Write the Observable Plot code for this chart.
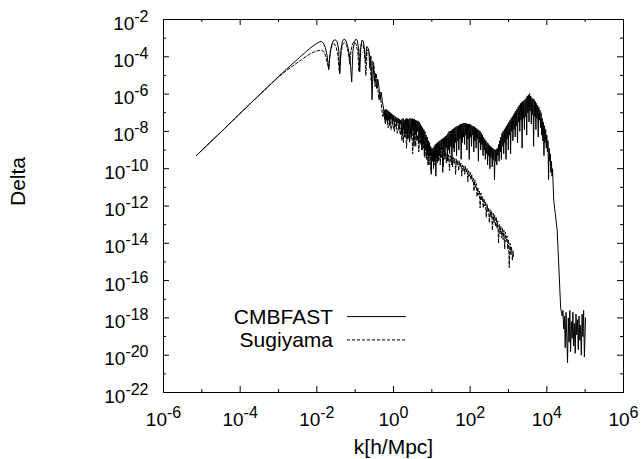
<!DOCTYPE html>
<html>
<head>
<meta charset="utf-8">
<script src="https://cdn.jsdelivr.net/npm/d3@7"></script>
<script src="https://cdn.jsdelivr.net/npm/@observablehq/plot@0.6"></script>
<style>
  html, body { margin: 0; padding: 0; background: #fff; }
  #chart { width: 643px; height: 459px; }
</style>
</head>
<body>
<div id="chart"></div>
<script>
// Each entry is [log10 k, log10 Delta].
const cmbfast = [
  [-5.14,-9.29],[-4.8,-8.62],[-4.5,-8.03],[-4.2,-7.43],[-4.0,-7.03],[-3.7,-6.44],[-3.5,-6.05],
  [-3.2,-5.45],[-3.0,-5.06],[-2.8,-4.68],[-2.6,-4.31],[-2.45,-4.03],[-2.3,-3.76],[-2.2,-3.58],
  [-2.1,-3.42],[-2.0,-3.28],[-1.93,-3.2],[-1.88,-3.18],[-1.83,-3.26],[-1.78,-3.5],[-1.73,-3.95],
  [-1.69,-4.7],[-1.66,-3.95],[-1.62,-3.4],[-1.57,-3.13],[-1.52,-3.08],[-1.47,-3.2],[-1.43,-3.6],
  [-1.40,-4.9],[-1.37,-3.6],[-1.33,-3.15],[-1.29,-3.05],[-1.25,-3.1],[-1.2,-3.4],[-1.15,-3.9],
  [-1.12,-4.5],[-1.09,-5.35],[-1.06,-3.7],[-1.02,-3.2],[-0.98,-3.05],[-0.94,-3.15],[-0.91,-3.6],
  [-0.88,-4.8],[-0.85,-3.4],[-0.82,-3.1],[-0.79,-3.15],[-0.76,-3.5],[-0.73,-4.3],[-0.70,-3.45],
  [-0.67,-3.5],[-0.64,-3.75],[-0.62,-4.6],[-0.59,-3.95],[-0.56,-6.3],[-0.53,-4.4],[-0.50,-5.3],
  [-0.47,-4.9],[-0.44,-5.7],[-0.41,-5.2],[-0.38,-5.6],[-0.35,-6.3],[-0.32,-5.9],[-0.29,-6.4],
  [-0.26,-6.75],[-0.245,-7.2],[-0.23,-6.85],[-0.215,-7.5],[-0.2,-6.8],[-0.185,-7.3],[-0.17,-6.85],
  [-0.155,-7.6],[-0.14,-6.9],[-0.125,-7.4],[-0.11,-6.95],[-0.095,-7.7],[-0.08,-7.0],[-0.065,-7.35],
  [-0.05,-7.05],[-0.035,-7.6],[-0.02,-7.1],[-0.005,-7.45],[0.01,-7.15],[0.025,-7.8],[0.04,-7.2],
  [0.055,-7.5],[0.07,-7.25],[0.085,-7.7],[0.1,-7.3],[0.115,-7.55],[0.13,-7.3],[0.145,-7.9],
  [0.16,-7.35],[0.175,-7.6],
  [0.19,-7.4],[0.205,-8.0],[0.22,-7.35],[0.235,-8.2],[0.25,-7.3],[0.265,-7.9],[0.28,-7.4],
  [0.295,-8.3],[0.31,-7.35],[0.325,-8.05],[0.34,-7.3],[0.355,-8.4],[0.37,-7.32],[0.385,-7.95],
  [0.4,-7.35],[0.415,-8.5],[0.43,-7.3],[0.445,-8.1],[0.46,-7.33],[0.475,-8.25],[0.49,-7.3],
  [0.505,-8.0],[0.52,-7.35],[0.535,-8.8],[0.55,-7.35],[0.565,-8.15],[0.58,-7.4],[0.595,-8.35],
  [0.61,-7.42],[0.625,-8.0],[0.64,-7.45],[0.655,-8.6],[0.67,-7.5],[0.685,-8.3],[0.7,-7.6],
  [0.715,-8.6],[0.73,-7.7],[0.745,-9.0],[0.76,-7.8],[0.775,-8.7],[0.79,-7.9],[0.805,-9.3],
  [0.82,-8.0],[0.835,-8.9],[0.85,-8.2],[0.865,-9.5],[0.88,-8.3],[0.895,-9.1],[0.91,-8.5],
  [0.925,-9.8],[0.94,-8.6],[0.955,-9.3],[0.97,-8.8],[0.985,-10.3],[1.0,-8.9],[1.015,-9.6],
  [1.03,-8.9],[1.045,-10.0],[1.06,-8.8],[1.075,-9.5],[1.09,-8.7],[1.105,-10.4],[1.12,-8.65],
  [1.135,-9.4],[1.15,-8.6],
  [1.165,-9.6],[1.18,-8.55],[1.195,-9.2],[1.21,-8.5],[1.225,-9.4],[1.24,-8.45],[1.255,-9.0],
  [1.27,-8.4],[1.285,-10.2],[1.3,-8.35],[1.315,-9.1],[1.33,-8.3],[1.345,-9.3],[1.36,-8.25],
  [1.375,-8.9],[1.39,-8.2],[1.405,-9.6],[1.42,-8.1],[1.435,-9.0],[1.45,-8.0],[1.465,-9.2],
  [1.48,-7.98],[1.495,-8.8],[1.51,-7.95],[1.525,-9.8],[1.54,-7.9],[1.555,-8.9],[1.57,-7.85],
  [1.585,-9.1],[1.6,-7.8],[1.615,-8.6],[1.63,-7.75],[1.645,-9.3],[1.66,-7.72],[1.675,-8.5],
  [1.69,-7.7],[1.705,-9.0],[1.72,-7.65],[1.735,-8.4],[1.75,-7.6],[1.765,-9.5],[1.78,-7.6],
  [1.795,-8.6],[1.81,-7.58],[1.825,-8.3],
  [1.84,-7.55],[1.855,-8.7],[1.87,-7.55],[1.885,-8.2],[1.9,-7.58],[1.915,-9.0],[1.93,-7.6],
  [1.945,-8.4],[1.96,-7.6],[1.975,-9.5],[1.99,-7.6],[2.005,-8.3],[2.02,-7.65],[2.035,-8.8],
  [2.05,-7.7],[2.065,-8.2],[2.08,-7.72],[2.095,-9.1],[2.11,-7.75],[2.125,-8.5],[2.14,-7.8],
  [2.155,-8.9],[2.17,-7.85],[2.185,-8.4],[2.2,-7.9],[2.215,-9.6],[2.23,-7.95],[2.245,-8.6],
  [2.26,-8.0],[2.275,-9.0],[2.29,-8.1],[2.305,-8.7],[2.32,-8.2],[2.335,-9.3],[2.35,-8.3],
  [2.365,-9.0],[2.38,-8.4],[2.395,-9.5],[2.41,-8.5],[2.425,-9.2],[2.44,-8.6],[2.455,-9.8],
  [2.47,-8.65],[2.485,-9.3],[2.5,-8.75],[2.515,-10.0],[2.53,-8.8],[2.545,-9.4],[2.56,-8.85],
  [2.575,-9.9],[2.59,-8.9],[2.605,-9.5],[2.62,-8.95],[2.635,-10.6],[2.65,-9.0],[2.665,-9.6],
  [2.68,-8.95],[2.695,-9.8],[2.71,-8.9],
  [2.725,-9.3],[2.74,-8.7],[2.755,-9.6],[2.77,-8.5],[2.785,-9.1],[2.8,-8.3],[2.815,-9.5],
  [2.83,-8.1],[2.845,-8.8],[2.86,-8.0],[2.875,-9.2],[2.89,-7.9],[2.905,-8.6],[2.92,-7.8],
  [2.935,-9.5],[2.95,-7.7],[2.965,-8.4],[2.98,-7.6],[2.995,-9.0],[3.01,-7.5],[3.025,-8.2],
  [3.04,-7.4],[3.055,-9.2],[3.07,-7.3],[3.085,-8.0],[3.1,-7.2],[3.115,-8.5],[3.13,-7.1],
  [3.145,-7.9],[3.16,-7.0],[3.175,-8.3],[3.19,-6.9],[3.205,-7.7],[3.22,-6.8],[3.235,-8.6],
  [3.25,-6.7],[3.265,-7.5],[3.28,-6.6],[3.295,-8.0],[3.31,-6.5],[3.325,-7.4],[3.34,-6.45],
  [3.355,-8.9],[3.37,-6.4],[3.385,-7.3],[3.4,-6.35],[3.415,-7.9],[3.43,-6.3],[3.445,-7.2],
  [3.46,-6.2],[3.475,-8.2],[3.49,-6.1],[3.505,-7.0],[3.52,-6.05],[3.535,-7.5],[3.55,-5.97],
  [3.565,-6.9],[3.58,-6.1],
  [3.595,-7.6],[3.61,-6.2],[3.625,-7.1],[3.64,-6.25],[3.655,-8.8],[3.67,-6.3],[3.685,-7.2],
  [3.7,-6.4],[3.715,-7.9],[3.73,-6.5],[3.745,-7.3],[3.76,-6.6],[3.775,-8.3],[3.79,-6.7],
  [3.805,-7.4],[3.82,-6.85],[3.835,-7.8],[3.85,-7.0],
  [3.865,-8.2],[3.88,-7.3],[3.895,-8.5],[3.91,-7.5],[3.925,-9.3],[3.94,-7.7],[3.955,-8.6],
  [3.97,-7.9],[3.985,-8.9],[4.0,-8.2],[4.015,-9.1],[4.03,-8.5],[4.045,-10.6],[4.06,-8.9],
  [4.075,-9.6],[4.09,-9.2],[4.105,-10.2],[4.12,-9.6],[4.135,-10.4],[4.15,-10.0],[4.165,-10.9],
  [4.18,-11.7],[4.22,-12.4],[4.27,-13.3],[4.31,-15.1],[4.36,-17.45],[4.40,-17.9],
  [4.42,-17.6],[4.44,-18.6],[4.46,-17.9],[4.48,-19.6],[4.50,-17.7],[4.52,-19.0],[4.54,-20.4],
  [4.56,-18.0],[4.58,-19.3],[4.60,-17.6],[4.62,-19.8],[4.64,-18.2],[4.66,-19.1],[4.68,-17.7],
  [4.70,-19.5],[4.72,-18.3],[4.74,-19.9],[4.76,-17.8],[4.78,-18.9],[4.80,-18.1],[4.82,-19.7],
  [4.84,-17.9],[4.86,-19.2],[4.88,-18.4],[4.90,-20.0],[4.92,-17.8],[4.94,-19.0],[4.96,-17.6],
  [4.98,-20.1],[5.01,-18.0]
];

const sugiyama = [
  [-5.14,-9.29],[-4.5,-8.03],[-4.0,-7.03],[-3.5,-6.05],[-3.0,-5.08],[-2.8,-4.75],[-2.6,-4.45],
  [-2.4,-4.15],[-2.2,-3.87],[-2.05,-3.72],[-1.95,-3.66],[-1.88,-3.65],[-1.82,-3.72],[-1.77,-3.95],
  [-1.72,-4.4],[-1.69,-4.6],[-1.65,-3.7],[-1.60,-3.35],[-1.55,-3.3],[-1.50,-3.45],[-1.45,-3.9],
  [-1.41,-4.9],[-1.37,-3.8],[-1.33,-3.35],[-1.28,-3.25],[-1.23,-3.35],[-1.18,-3.75],[-1.14,-4.4],
  [-1.11,-3.7],[-1.07,-3.3],[-1.02,-3.2],[-0.97,-3.35],[-0.93,-3.8],[-0.90,-4.8],[-0.87,-3.6],
  [-0.83,-3.3],[-0.79,-3.4],[-0.75,-3.9],[-0.72,-5.0],[-0.69,-3.7],[-0.65,-3.6],[-0.61,-4.1],
  [-0.58,-5.3],[-0.55,-4.2],[-0.51,-4.4],[-0.48,-5.6],[-0.45,-4.9],[-0.42,-5.5],[-0.38,-6.3],
  [-0.35,-5.9],[-0.31,-6.7],[-0.28,-7.2],[-0.25,-7.0],[-0.21,-7.6],[-0.18,-7.2],[-0.14,-7.8],
  [-0.10,-7.4],[-0.06,-7.9],[-0.02,-7.5],[0.02,-8.0],[0.06,-7.6],[0.10,-8.1],[0.14,-7.7],
  [0.18,-8.2],[0.2,-7.8],[0.22,-8.5],[0.24,-7.85],[0.26,-8.6],[0.28,-7.9],[0.3,-8.3],[0.32,-7.9],
  [0.34,-8.9],[0.36,-7.95],[0.38,-8.4],[0.4,-7.95],[0.42,-8.6],[0.44,-8.0],[0.46,-8.4],[0.48,-8.05],
  [0.5,-9.2],[0.52,-8.1],[0.54,-8.5],[0.56,-8.1],[0.58,-8.8],[0.6,-8.15],[0.62,-8.5],[0.64,-8.2],
  [0.66,-9.1],[0.68,-8.3],[0.7,-8.7],[0.72,-8.4],[0.74,-9.0],[0.76,-8.5],[0.78,-8.9],[0.8,-8.6],
  [0.82,-9.4],[0.84,-8.7],[0.86,-9.1],[0.88,-8.8],[0.9,-9.8],[0.92,-8.9],[0.94,-9.3],[0.96,-9.0],
  [0.98,-10.1],[1.0,-9.05],[1.02,-9.5],[1.04,-9.1],[1.06,-9.8],[1.08,-9.0],[1.1,-9.4],[1.12,-9.05],
  [1.14,-9.7],[1.16,-9.1],[1.18,-9.5],[1.2,-9.1],[1.22,-9.8],[1.24,-9.05],[1.26,-9.4],[1.28,-9.1],
  [1.3,-9.9],[1.32,-9.1],[1.34,-9.5],[1.36,-9.15],[1.38,-9.7],[1.4,-9.2],[1.42,-9.6],[1.44,-9.25],
  [1.46,-10.1],[1.48,-9.3],[1.5,-9.6],[1.52,-9.35],[1.54,-9.9],[1.56,-9.4],[1.58,-9.7],[1.6,-9.45],
  [1.62,-10.3],[1.64,-9.5],[1.66,-9.8],[1.68,-9.55],[1.7,-10.1],[1.72,-9.6],[1.74,-9.9],[1.76,-9.7],
  [1.78,-10.4],[1.8,-9.8],[1.82,-10.1],[1.84,-9.85],[1.86,-10.3],[1.88,-9.9],[1.9,-10.2],[1.92,-10.0],
  [1.94,-10.7],[1.96,-10.1],[1.98,-10.4],[2.0,-10.2],[2.02,-10.6],[2.04,-10.3],[2.06,-10.7],
  [2.08,-10.5],[2.1,-11.2],[2.12,-10.6],[2.14,-11.0],[2.16,-10.8],[2.18,-11.5],[2.2,-11.0],
  [2.22,-11.4],[2.24,-11.2],[2.26,-12.1],[2.28,-11.3],[2.3,-11.7],[2.32,-11.5],[2.34,-12.1],
  [2.36,-11.6],[2.38,-12.0],[2.4,-11.8],[2.42,-12.6],[2.44,-11.9],[2.46,-12.3],[2.48,-12.1],
  [2.5,-12.9],[2.52,-12.2],[2.54,-12.6],[2.56,-12.3],[2.58,-13.3],[2.6,-12.4],[2.62,-12.9],
  [2.64,-12.5],[2.66,-13.1],[2.68,-12.6],[2.7,-13.2],[2.72,-12.8],[2.74,-14.0],[2.76,-13.0],
  [2.78,-13.5],[2.8,-13.1],[2.82,-13.7],[2.84,-13.2],[2.86,-13.8],[2.88,-13.3],[2.9,-14.3],
  [2.92,-13.4],[2.94,-13.9],[2.96,-13.6],[2.98,-14.3],[3.0,-13.8],[3.02,-15.3],[3.04,-14.0],
  [3.06,-14.6],[3.08,-14.2],[3.1,-14.9],[3.12,-14.4],[3.13,-14.7]
];

// Axis ticks (powers of ten)
const xMajorExp = [-6, -4, -2, 0, 2, 4, 6];
const xMinorExp = [-5, -3, -1, 1, 3, 5];
const yMajorExp = [-2, -4, -6, -8, -10, -12, -14, -16, -18, -20, -22];
const yMinorExp = [-3, -5, -7, -9, -11, -13, -15, -17, -19, -21];

const legendEntries = [
  { label: "CMBFAST", dash: null },
  { label: "Sugiyama", dash: "3,2" }
];
const xLabel = "k[h/Mpc]";
const yLabel = "Delta";

const W = 643, H = 459;
const mL = 163, mR = 20, mT = 19, mB = 67;
const plotW = W - mL - mR, plotH = H - mT - mB;
const majorLen = 6, minorLen = 3;

const toRows = pairs => pairs.map(([lk, ld]) => ({ k: 10 ** lk, delta: 10 ** ld }));
const pow10 = e => 10 ** e;
const expOf = d => String(Math.round(Math.log10(d)));

function legend(index, scales, values, dims) {
  const g = d3.create("svg:g").attr("font-size", 21).attr("fill", "black");
  legendEntries.forEach((e, i) => {
    const cy = dims.marginTop + 297.6 + i * 23.3;
    g.append("text")
      .attr("x", dims.marginLeft + 170)
      .attr("y", cy)
      .attr("dy", "0.35em")
      .attr("text-anchor", "end")
      .text(e.label);
    g.append("line")
      .attr("x1", dims.marginLeft + 184)
      .attr("x2", dims.marginLeft + 243)
      .attr("y1", cy).attr("y2", cy)
      .attr("stroke", "black")
      .attr("stroke-width", 1)
      .attr("stroke-dasharray", e.dash);
  });
  return g.node();
}

const chart = Plot.plot({
  width: W, height: H,
  marginLeft: mL, marginRight: mR, marginTop: mT, marginBottom: mB,
  style: {
    fontFamily: "'Liberation Sans', Arial, Helvetica, sans-serif",
    fontSize: "19px", background: "white", color: "black", overflow: "visible"
  },
  x: { type: "log", domain: [1e-6, 1e6] },
  y: { type: "log", domain: [1e-22, 1e-2] },
  marks: [
    Plot.line(toRows(cmbfast), { x: "k", y: "delta", stroke: "black", strokeWidth: 1 }),
    Plot.line(toRows(sugiyama), { x: "k", y: "delta", stroke: "black", strokeWidth: 1, strokeDasharray: "3,2" }),

    // inward ticks on all four sides
    Plot.ruleY(yMajorExp, { y: pow10, insetRight: plotW - majorLen }),
    Plot.ruleY(yMajorExp, { y: pow10, insetLeft: plotW - majorLen }),
    Plot.ruleY(yMinorExp, { y: pow10, insetRight: plotW - minorLen }),
    Plot.ruleY(yMinorExp, { y: pow10, insetLeft: plotW - minorLen }),
    Plot.ruleX(xMajorExp, { x: pow10, insetTop: plotH - majorLen }),
    Plot.ruleX(xMajorExp, { x: pow10, insetBottom: plotH - majorLen }),
    Plot.ruleX(xMinorExp, { x: pow10, insetTop: plotH - minorLen }),
    Plot.ruleX(xMinorExp, { x: pow10, insetBottom: plotH - minorLen }),
    Plot.frame({ stroke: "black", strokeWidth: 1 }),

    Plot.axisX(xMajorExp.map(pow10), {
      anchor: "bottom", tickSize: 0, tickPadding: 33, lineAnchor: "bottom",
      tickFormat: expOf, fontSize: 19, label: null
    }),
    Plot.axisY(yMajorExp.map(pow10), {
      anchor: "left", tickSize: 0, tickPadding: 15, lineAnchor: "bottom", dy: 10,
      tickFormat: expOf, fontSize: 19, label: null
    }),

    Plot.text([xLabel], { text: d => d, frameAnchor: "bottom", dy: 61, lineAnchor: "bottom", fontSize: 21 }),
    Plot.text([yLabel], { text: d => d, frameAnchor: "left", dx: -145.5, rotate: -90, fontSize: 21 }),
    legend
  ]
});

// Tick labels are powers of ten: write them as 10 with a raised exponent.
const svgNS = "http://www.w3.org/2000/svg";
chart.querySelectorAll('g[aria-label="x-axis tick label"] text, g[aria-label="y-axis tick label"] text')
  .forEach(t => {
    const exp = t.textContent;
    t.textContent = "";
    const base = document.createElementNS(svgNS, "tspan");
    base.textContent = "10";
    const sup = document.createElementNS(svgNS, "tspan");
    sup.setAttribute("dy", "-8");
    sup.setAttribute("font-size", "16");
    sup.textContent = exp;
    t.append(base, sup);
  });

document.getElementById("chart").append(chart);
</script>
</body>
</html>
